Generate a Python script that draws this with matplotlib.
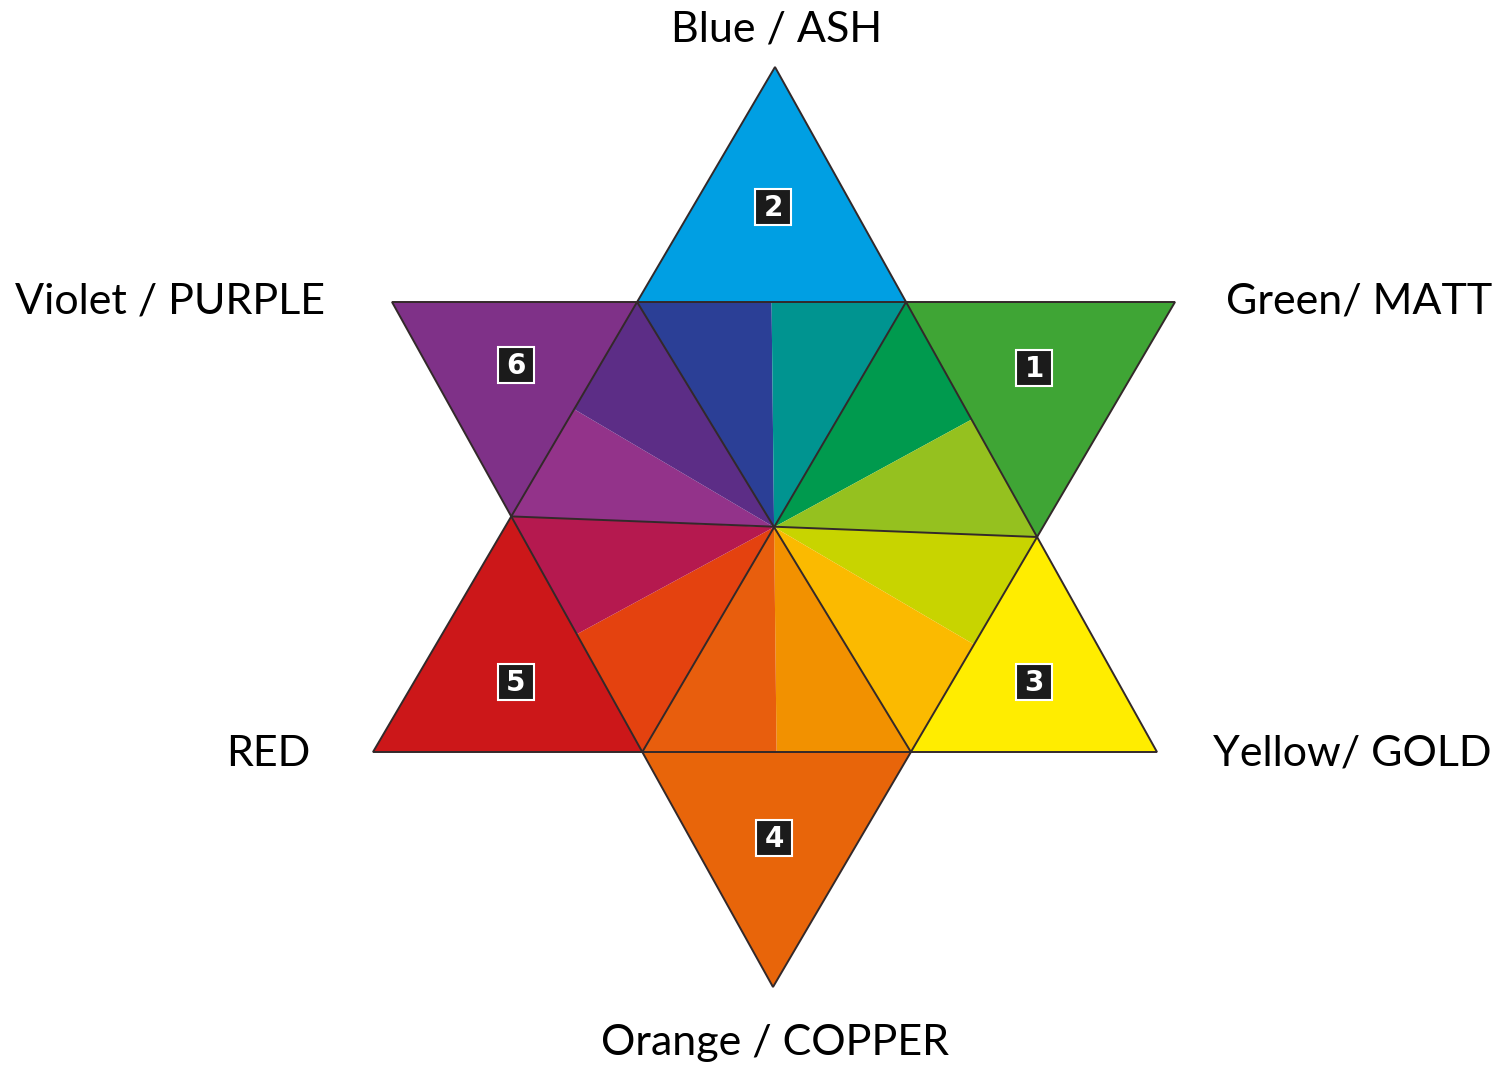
import numpy as np
import matplotlib.pyplot as plt
from matplotlib.patches import Polygon, Rectangle

# corners of the two big triangles that make the star (picture pixels, y down)
up_triangle = [(775, 67), (373, 752), (1157, 752)]
down_triangle = [(392, 302), (1175, 302), (773, 987)]

# six tips, clockwise from the top
tip_labels = ['Blue / ASH', 'Green/ MATT', 'Yellow/ GOLD',
              'Orange / COPPER', 'RED', 'Violet / PURPLE']
tip_numbers = ['2', '1', '3', '4', '5', '6']
tip_colors = ['#009fe3', '#3fa535', '#ffed00', '#e8650a', '#cc1719', '#7f3188']

# twelve wedges of the inner hexagon, clockwise from the top-left corner
wedge_colors = ['#2b3f96', '#009490',   # top edge
                '#009a4e', '#95c11f',   # upper right edge
                '#c8d400', '#fbba00',   # lower right edge
                '#f29100', '#e85e0d',   # bottom edge
                '#e4420f', '#b5194f',   # lower left edge
                '#93338a', '#5c2d86']   # upper left edge

# where the labels and number boxes sit
label_pos = [(777, 30, 'center'), (1492, 301, 'right'), (1492, 754, 'right'),
             (775, 1043, 'center'), (310, 754, 'right'), (15, 301, 'left')]
box_pos = [(773, 207), (1034, 368), (1034, 682), (774, 838), (516, 682), (516, 365)]


def intersect(p1, p2, p3, p4):
    """Crossing point of line p1-p2 with line p3-p4."""
    p1, p2, p3, p4 = map(np.asarray, (p1, p2, p3, p4))
    d1 = p2 - p1
    d2 = p4 - p3
    t = np.cross(p3 - p1, d2) / np.cross(d1, d2)
    return p1 + t * d1


ua, ul, ur = up_triangle
dl, dr, db = down_triangle

# inner hexagon, clockwise from the top-left corner
hexagon = [intersect(ua, ul, dl, dr),
           intersect(ua, ur, dl, dr),
           intersect(ua, ur, dr, db),
           intersect(ul, ur, dr, db),
           intersect(ul, ur, dl, db),
           intersect(ua, ul, dl, db)]
center = intersect(hexagon[0], hexagon[3], hexagon[1], hexagon[4])

# outer tip of each star point, same order as the tip lists
tips = [np.asarray(ua), np.asarray(dr), np.asarray(ur),
        np.asarray(db), np.asarray(ul), np.asarray(dl)]

fig = plt.figure(figsize=(15.05, 10.68), dpi=100)
ax = fig.add_axes([0, 0, 1, 1])
ax.set_xlim(0, 1505)
ax.set_ylim(1068, 0)
ax.axis('off')

# star points: tip i sits on the hexagon edge from corner i to corner i+1
for i in range(6):
    p, q = hexagon[i], hexagon[(i + 1) % 6]
    ax.add_patch(Polygon([tips[i], p, q], closed=True, fc=tip_colors[i], ec='none'))

# wedges of the hexagon
for i in range(6):
    p, q = hexagon[i], hexagon[(i + 1) % 6]
    m = (p + q) / 2
    ax.add_patch(Polygon([center, p, m], closed=True, fc=wedge_colors[2 * i], ec='none'))
    ax.add_patch(Polygon([center, m, q], closed=True, fc=wedge_colors[2 * i + 1], ec='none'))

# outlines: both big triangles and the three diagonals
line_color = '#33292a'
for tri in (up_triangle, down_triangle):
    ax.add_patch(Polygon(tri, closed=True, fill=False, ec=line_color, lw=1.4, joinstyle='miter'))
for i in range(3):
    p, q = hexagon[i], hexagon[i + 3]
    ax.plot([p[0], q[0]], [p[1], q[1]], color=line_color, lw=1.4)

# number boxes
box = 36
for (bx, by), num in zip(box_pos, tip_numbers):
    ax.add_patch(Rectangle((bx - box / 2, by - box / 2), box, box,
                           fc='#1b1b1b', ec='white', lw=1.5))
    ax.text(bx, by + 1, num, color='white', fontsize=20, fontweight='bold',
            family='DejaVu Sans', ha='center', va='center')

# names of the tips
for (lx, ly, ha), name in zip(label_pos, tip_labels):
    ax.text(lx, ly, name, fontsize=31, family='Lato', ha=ha, va='center', color='black')

fig.savefig('out.png', dpi=100)
